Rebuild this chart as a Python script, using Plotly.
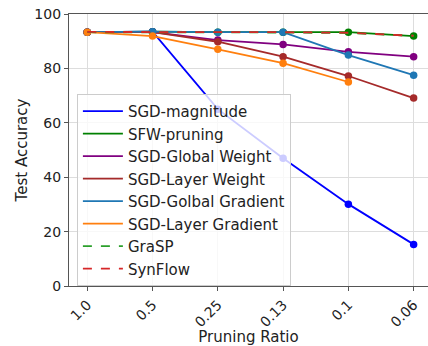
import plotly.graph_objects as go

ratios = ["1.0", "0.5", "0.25", "0.13", "0.1", "0.06"]
y_ticks = [0, 20, 40, 60, 80, 100]

sgd_magnitude = [93.3, 93.5, 65.0, 47.0, 30.1, 15.3]
sfw_pruning = [93.3, 93.5, 93.3, 93.3, 93.3, 91.9]
sgd_global_weight = [93.3, 93.3, 90.4, 88.8, 86.1, 84.3]
sgd_layer_weight = [93.3, 93.3, 89.8, 84.3, 77.2, 69.1]
sgd_global_gradient = [93.3, 93.5, 93.3, 93.3, 84.9, 77.5]
sgd_layer_gradient = [93.3, 91.9, 87.0, 81.9, 75.0]
grasp = [93.3, 93.3, 93.2, 93.2, 93.0, 92.0]
synflow = [93.4, 93.4, 93.3, 93.3, 93.1, 92.0]

series = [
    ("SGD-magnitude", sgd_magnitude, "#0000ff", "solid", True),
    ("SFW-pruning", sfw_pruning, "#008000", "solid", True),
    ("SGD-Global Weight", sgd_global_weight, "#800080", "solid", True),
    ("SGD-Layer Weight", sgd_layer_weight, "#a52a2a", "solid", True),
    ("SGD-Golbal Gradient", sgd_global_gradient, "#1f77b4", "solid", True),
    ("SGD-Layer Gradient", sgd_layer_gradient, "#ff7f0e", "solid", True),
    ("GraSP", grasp, "#2ca02c", "dash", False),
    ("SynFlow", synflow, "#d62728", "dash", False),
]

fig = go.Figure()
for name, vals, color, dash, mk in series:
    xs = list(range(len(vals)))
    fig.add_trace(go.Scatter(
        x=xs, y=vals, mode="lines", name=name,
        line=dict(color=color, width=1.8, dash=dash),
    ))
    if mk:
        fig.add_trace(go.Scatter(
            x=xs, y=vals, mode="markers", showlegend=False,
            marker=dict(color=color, size=7.5), hoverinfo="skip",
        ))

font = dict(family="DejaVu Sans", size=14, color="#222222")
fig.update_layout(
    width=428, height=346,
    margin=dict(l=69, r=0, t=14, b=60),
    plot_bgcolor="white", paper_bgcolor="white",
    font=font,
    legend=dict(
        x=0.022, y=0.706, xanchor="left", yanchor="top",
        bgcolor="rgba(255,255,255,0.8)", bordercolor="#cccccc", borderwidth=1,
        font=dict(family="DejaVu Sans", size=15, color="#222222"),
        tracegroupgap=0, itemwidth=40,
    ),
    showlegend=True,
)
fig.update_xaxes(
    range=[-0.28, 5.22], automargin=False,
    tickmode="array", tickvals=list(range(len(ratios))), ticktext=ratios,
    tickangle=-45,
    showline=True, linecolor="#555555", linewidth=1.2, mirror=True,
    ticks="outside", ticklen=4, tickcolor="#555555",
    showgrid=True, gridcolor="#dddddd", gridwidth=1,
    zeroline=False,
    title=dict(text="Pruning Ratio", standoff=2, font=dict(size=15)),
)
fig.update_yaxes(
    range=[0, 100], automargin=False,
    tickmode="array", tickvals=y_ticks,
    showline=True, linecolor="#555555", linewidth=1.2, mirror=False,
    ticks="outside", ticklen=4, tickcolor="#555555",
    showgrid=True, gridcolor="#dddddd", gridwidth=1,
    zeroline=False,
    title=dict(text="Test Accuracy", standoff=3, font=dict(size=15)),
)
fig.write_html(
    "out.html",
    config={"displayModeBar": False},
    post_script="document.body.style.margin='0';document.body.style.overflow='hidden';",
)
